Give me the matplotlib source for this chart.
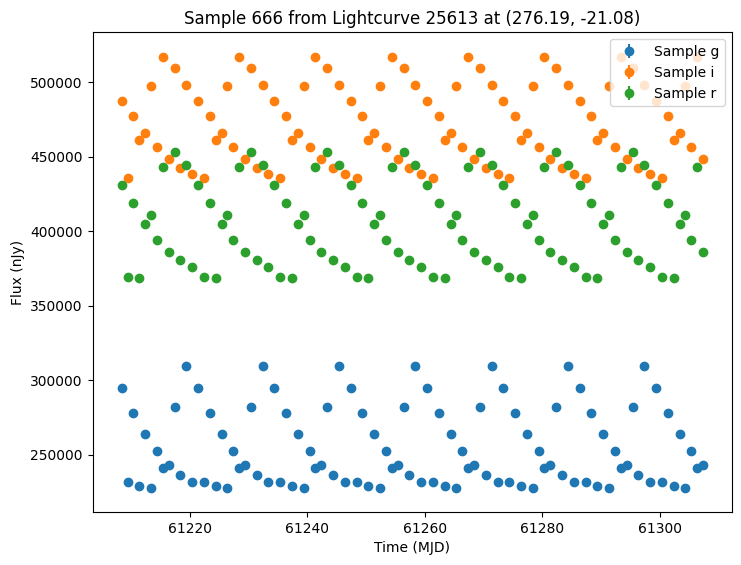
import numpy as np
import matplotlib
matplotlib.use("Agg")
import matplotlib.pyplot as plt

# Tiempos (MJD)
time = [61208.4, 61209.4, 61210.4, 61211.4, 61212.4, 61213.4, 61214.4, 61215.4, 61216.4, 61217.4,
        61218.4, 61219.4, 61220.4, 61221.4, 61222.4, 61223.4, 61224.4, 61225.4, 61226.4, 61227.4,
        61228.4, 61229.4, 61230.4, 61231.4, 61232.4, 61233.4, 61234.4, 61235.4, 61236.4, 61237.4,
        61238.4, 61239.4, 61240.4, 61241.4, 61242.4, 61243.4, 61244.4, 61245.4, 61246.4, 61247.4,
        61248.4, 61249.4, 61250.4, 61251.4, 61252.4, 61253.4, 61254.4, 61255.4, 61256.4, 61257.4,
        61258.4, 61259.4, 61260.4, 61261.4, 61262.4, 61263.4, 61264.4, 61265.4, 61266.4, 61267.4,
        61268.4, 61269.4, 61270.4, 61271.4, 61272.4, 61273.4, 61274.4, 61275.4, 61276.4, 61277.4,
        61278.4, 61279.4, 61280.4, 61281.4, 61282.4, 61283.4, 61284.4, 61285.4, 61286.4, 61287.4,
        61288.4, 61289.4, 61290.4, 61291.4, 61292.4, 61293.4, 61294.4, 61295.4, 61296.4, 61297.4,
        61298.4, 61299.4, 61300.4, 61301.4, 61302.4, 61303.4, 61304.4, 61305.4, 61306.4, 61307.4]

# Flujos (nJy)
flux_g = [294600, 231700, 278200, 229100, 264100, 227600, 252100, 241000, 242800, 282000, 236400, 309400, 231700,
          294600, 231700, 278200, 229100, 264100, 227600, 252100, 241000, 242800, 282000, 236400, 309400, 231700,
          294600, 231700, 278200, 229100, 264100, 227600, 252100, 241000, 242800, 282000, 236400, 309400, 231700,
          294600, 231700, 278200, 229100, 264100, 227600, 252100, 241000, 242800, 282000, 236400, 309400, 231700,
          294600, 231700, 278200, 229100, 264100, 227600, 252100, 241000, 242800, 282000, 236400, 309400, 231700,
          294600, 231700, 278200, 229100, 264100, 227600, 252100, 241000, 242800, 282000, 236400, 309400, 231700,
          294600, 231700, 278200, 229100, 264100, 227600, 252100, 241000, 242800, 282000, 236400, 309400, 231700,
          294600, 231700, 278200, 229100, 264100, 227600, 252100, 241000, 242800]

flux_i = [487200, 435600, 477200, 461300, 465900, 497800, 456600, 517100, 448700, 509800, 442700, 498500, 438700,
          487200, 435600, 477200, 461300, 465900, 497800, 456600, 517100, 448700, 509800, 442700, 498500, 438700,
          487200, 435600, 477200, 461300, 465900, 497800, 456600, 517100, 448700, 509800, 442700, 498500, 438700,
          487200, 435600, 477200, 461300, 465900, 497800, 456600, 517100, 448700, 509800, 442700, 498500, 438700,
          487200, 435600, 477200, 461300, 465900, 497800, 456600, 517100, 448700, 509800, 442700, 498500, 438700,
          487200, 435600, 477200, 461300, 465900, 497800, 456600, 517100, 448700, 509800, 442700, 498500, 438700,
          487200, 435600, 477200, 461300, 465900, 497800, 456600, 517100, 448700, 509800, 442700, 498500, 438700,
          487200, 435600, 477200, 461300, 465900, 497800, 456600, 517100, 448700]

flux_r = [431400, 369000, 418800, 368300, 404800, 410800, 394200, 443400, 386300, 453300, 380500, 444700, 376300,
          431400, 369000, 418800, 368300, 404800, 410800, 394200, 443400, 386300, 453300, 380500, 444700, 376300,
          431400, 369000, 418800, 368300, 404800, 410800, 394200, 443400, 386300, 453300, 380500, 444700, 376300,
          431400, 369000, 418800, 368300, 404800, 410800, 394200, 443400, 386300, 453300, 380500, 444700, 376300,
          431400, 369000, 418800, 368300, 404800, 410800, 394200, 443400, 386300, 453300, 380500, 444700, 376300,
          431400, 369000, 418800, 368300, 404800, 410800, 394200, 443400, 386300, 453300, 380500, 444700, 376300,
          431400, 369000, 418800, 368300, 404800, 410800, 394200, 443400, 386300, 453300, 380500, 444700, 376300,
          431400, 369000, 418800, 368300, 404800, 410800, 394200, 443400, 386300]

# Errores (pequeños, ocultos tras los marcadores)
err_g = 1500
err_i = 2000
err_r = 1800

fig = plt.figure(figsize=(7.41, 5.65), dpi=100)
ax = fig.add_axes([0.125, 0.094, 0.863, 0.849])

ax.errorbar(time, flux_g, yerr=err_g, fmt='o', label="Sample g")
ax.errorbar(time, flux_i, yerr=err_i, fmt='o', label="Sample i")
ax.errorbar(time, flux_r, yerr=err_r, fmt='o', label="Sample r")

ax.set_title("Sample 666 from Lightcurve 25613 at (276.19, -21.08)")
ax.set_xlabel("Time (MJD)")
ax.set_ylabel("Flux (nJy)")
ax.legend(loc="upper right")

fig.savefig("out.png", dpi=100)
